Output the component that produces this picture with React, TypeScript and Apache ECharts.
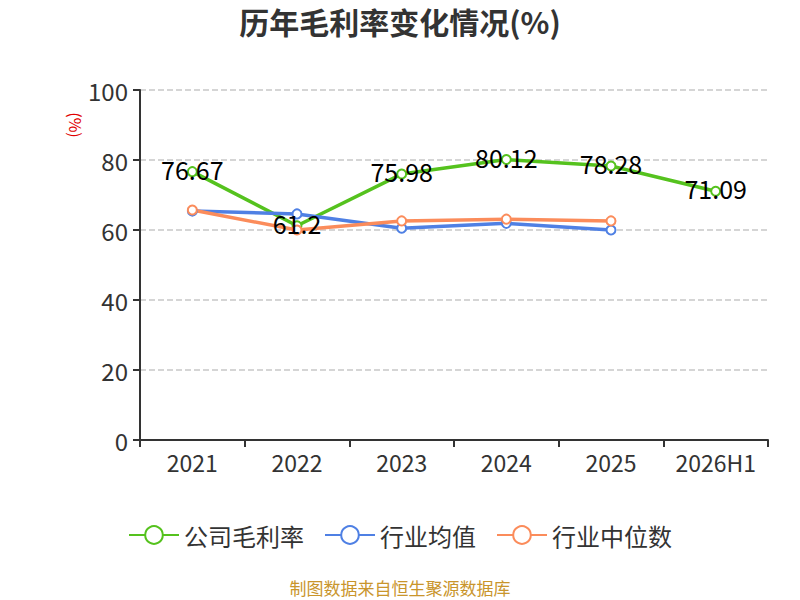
import React, { useEffect, useRef } from "react";
import * as echarts from "echarts";

const categories = ["2021", "2022", "2023", "2024", "2025", "2026H1"];
const companyMargin = [76.67, 61.2, 75.98, 80.12, 78.28, 71.09];
const industryAvg = [65.4, 64.6, 60.5, 61.9, 60.0, null];
const industryMedian = [65.7, 60.0, 62.6, 63.1, 62.6, null];
const seriesNames = ["公司毛利率", "行业均值", "行业中位数"];

const FONT = "'Noto Sans CJK SC', 'Noto Sans', sans-serif";

export default function App() {
  const ref = useRef<HTMLDivElement>(null);
  useEffect(() => {
    document.body.style.margin = "0";
    if (!ref.current) return;
    const chart = echarts.init(ref.current, undefined, { renderer: "svg" });
    const mk = (name: string, data: any[], color: string, withLabel: boolean) => ({
      name,
      type: "line",
      data,
      symbol: "emptyCircle",
      symbolSize: 9,
      lineStyle: { width: 3.5, color },
      itemStyle: { color, borderWidth: 2 },
      label: withLabel
        ? {
            show: true,
            position: "inside",
            offset: [0, -3],
            color: "#000",
            fontSize: 25,
            fontFamily: FONT,
          }
        : { show: false },
    });
    chart.setOption({
      animation: false,
      textStyle: { fontFamily: FONT },
      title: {
        text: "历年毛利率变化情况(%)",
        left: "center",
        top: 2,
        padding: [4, 5],
        textStyle: { fontSize: 30, fontWeight: "bold", color: "#333", fontFamily: FONT },
      },
      legend: {
        data: seriesNames,
        bottom: 48,
        left: "center",
        itemWidth: 50,
        itemHeight: 22,
        itemGap: 20,
        textStyle: { fontSize: 24, color: "#333", fontFamily: FONT },
      },
      grid: { left: 140, right: 32, top: 90, bottom: 160, containLabel: false },
      xAxis: {
        type: "category",
        data: categories,
        boundaryGap: true,
        axisLine: { lineStyle: { color: "#333", width: 2 } },
        axisTick: { show: true, length: 7, lineStyle: { color: "#333", width: 2 } },
        axisLabel: { interval: 0, fontSize: 23, color: "#333", margin: 10, fontFamily: FONT },
      },
      yAxis: {
        type: "value",
        min: 0,
        max: 100,
        interval: 20,
        axisLine: { show: true, lineStyle: { color: "#333", width: 2 } },
        axisTick: { show: true, length: 7, lineStyle: { color: "#333", width: 2 } },
        axisLabel: { fontSize: 24, color: "#333", margin: 12, fontFamily: FONT },
        splitLine: { show: true, lineStyle: { color: "#c8c8c8", type: "dashed", width: 1.5 } },
      },
      graphic: [
        {
          type: "text",
          x: 76,
          y: 125,
          rotation: -Math.PI / 2,
          style: {
            text: "(%)",
            fill: "#e00000",
            fontSize: 16,
            fontFamily: FONT,
            textAlign: "center",
            textVerticalAlign: "middle",
          },
        },
        {
          type: "text",
          left: "center",
          top: 579,
          style: {
            text: "制图数据来自恒生聚源数据库",
            fill: "#c9952c",
            fontSize: 17,
            fontFamily: FONT,
          },
        },
      ],
      series: [
        mk(seriesNames[0], companyMargin, "#55c21e", true),
        mk(seriesNames[1], industryAvg, "#4f80e4", false),
        mk(seriesNames[2], industryMedian, "#fb8c5b", false),
      ],
    });
    return () => chart.dispose();
  }, []);
  return <div ref={ref} style={{ width: 800, height: 600 }} />;
}
